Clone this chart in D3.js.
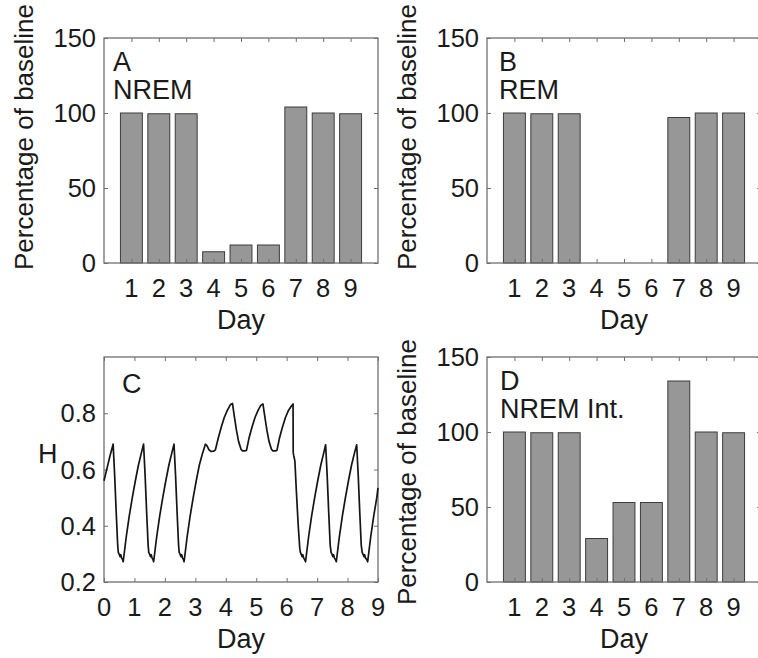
<!DOCTYPE html>
<html><head><meta charset="utf-8">
<script src="https://cdn.jsdelivr.net/npm/d3@7"></script>
<style>body{margin:0;background:#fff;overflow:hidden}svg text{font-family:"Liberation Sans",Arial,sans-serif;fill:#1a1a1a}</style>
</head><body>
<svg id="c" width="758" height="658"></svg>
<script>
// ---------- data ----------
const days = [1, 2, 3, 4, 5, 6, 7, 8, 9];
const nremValues = [100, 99.5, 99.5, 7.5, 12, 12, 104, 100, 99.5];
const remValues = [100, 99.5, 99.5, 0, 0, 0, 97, 100, 100];
const nremIntValues = [100, 99.5, 99.5, 29, 53, 53, 134, 100, 99.5];
const barTicks = [0, 50, 100, 150];
const hTicks = [0.2, 0.4, 0.6, 0.8];
const hDayTicks = [0, 1, 2, 3, 4, 5, 6, 7, 8, 9];
const hDays = [
  0, 0.1, 0.2, 0.3, 0.35, 0.40, 0.45, 0.47, 0.50, 0.53, 0.55, 0.58, 0.61, 0.63,
  0.73, 0.83, 0.93, 1.03, 1.13, 1.23, 1.30,
  1.35, 1.40, 1.45, 1.47, 1.50, 1.53, 1.55, 1.58, 1.61, 1.63,
  1.73, 1.83, 1.93, 2.03, 2.13, 2.23, 2.30,
  2.35, 2.40, 2.45, 2.47, 2.50, 2.53, 2.55, 2.58, 2.61, 2.63,
  2.73, 2.83, 2.93, 3.03, 3.13, 3.23, 3.33,
  3.38, 3.45, 3.52, 3.60, 3.66,
  3.75, 3.85, 3.95, 4.05, 4.15, 4.22,
  4.28, 4.35, 4.42, 4.50, 4.55, 4.62, 4.68,
  4.76, 4.86, 4.96, 5.06, 5.15, 5.22,
  5.28, 5.35, 5.42, 5.50, 5.55, 5.62, 5.68,
  5.76, 5.86, 5.96, 6.06, 6.15, 6.21,
  6.215, 6.23, 6.25, 6.27, 6.32, 6.38, 6.43, 6.45, 6.48, 6.51, 6.53, 6.56, 6.59, 6.62,
  6.72, 6.82, 6.92, 7.02, 7.12, 7.22, 7.28,
  7.33, 7.38, 7.43, 7.46, 7.49, 7.52, 7.54, 7.57, 7.60, 7.63,
  7.73, 7.83, 7.93, 8.03, 8.13, 8.23, 8.30,
  8.35, 8.40, 8.45, 8.48, 8.51, 8.54, 8.56, 8.59, 8.63, 8.66,
  8.76, 8.86, 8.96, 9.0
];
const hValues = [
  0.56, 0.605, 0.65, 0.69, 0.58, 0.45, 0.33, 0.305, 0.298, 0.29, 0.297, 0.285, 0.28, 0.272,
  0.36, 0.435, 0.50, 0.56, 0.615, 0.66, 0.69,
  0.58, 0.45, 0.33, 0.305, 0.298, 0.29, 0.297, 0.285, 0.28, 0.272,
  0.36, 0.435, 0.50, 0.56, 0.615, 0.66, 0.69,
  0.58, 0.45, 0.33, 0.305, 0.298, 0.29, 0.297, 0.285, 0.28, 0.272,
  0.36, 0.435, 0.50, 0.56, 0.615, 0.655, 0.69,
  0.685, 0.67, 0.664, 0.665, 0.67,
  0.71, 0.75, 0.785, 0.81, 0.83, 0.835,
  0.79, 0.74, 0.70, 0.672, 0.666, 0.666, 0.668,
  0.71, 0.75, 0.785, 0.81, 0.828, 0.833,
  0.79, 0.74, 0.70, 0.672, 0.666, 0.666, 0.668,
  0.71, 0.75, 0.785, 0.81, 0.825, 0.833,
  0.66, 0.65, 0.64, 0.63, 0.52, 0.40, 0.32, 0.305, 0.298, 0.29, 0.297, 0.285, 0.28, 0.272,
  0.36, 0.435, 0.50, 0.56, 0.615, 0.66, 0.688,
  0.58, 0.45, 0.33, 0.305, 0.298, 0.29, 0.297, 0.285, 0.28, 0.272,
  0.36, 0.435, 0.50, 0.56, 0.615, 0.66, 0.688,
  0.58, 0.45, 0.33, 0.305, 0.298, 0.29, 0.297, 0.285, 0.28, 0.272,
  0.36, 0.435, 0.50, 0.535
];

// ---------- drawing ----------
const svg = d3.select("#c");
const W = 274, H = 225;
const tickFont = 25.5, labelFont = 27, ylabFont = 26;
const boxColor = "#6f6f6f";

function frame(g, x, y, xt, yt) {
  // inward ticks on all four sides (box on)
  g.append("g").call(d3.axisBottom(x).tickValues(xt).tickSize(-4).tickFormat(""))
    .attr("transform", `translate(0,${H})`);
  g.append("g").call(d3.axisTop(x).tickValues(xt).tickSize(-4).tickFormat(""));
  g.append("g").call(d3.axisLeft(y).tickValues(yt).tickSize(-4).tickFormat(""));
  g.append("g").call(d3.axisRight(y).tickValues(yt).tickSize(-4).tickFormat(""))
    .attr("transform", `translate(${W},0)`);
  g.selectAll(".domain").remove();
  g.selectAll(".tick line").attr("stroke", boxColor).attr("stroke-width", 1);
  g.append("rect").attr("x", 0).attr("y", 0).attr("width", W).attr("height", H)
    .attr("fill", "none").attr("stroke", boxColor).attr("stroke-width", 1.3);
}

function labels(g, x, y, xt, yt, yfmt) {
  g.selectAll(".xl").data(xt).join("text").attr("class", "xl")
    .attr("x", d => x(d)).attr("y", H + 34).attr("text-anchor", "middle")
    .attr("font-size", tickFont).text(d => d);
  g.selectAll(".yl").data(yt).join("text").attr("class", "yl")
    .attr("x", -8).attr("y", d => y(d)).attr("dy", "0.36em").attr("text-anchor", "end")
    .attr("font-size", tickFont).text(yfmt);
  g.append("text").attr("x", W / 2).attr("y", H + 66).attr("text-anchor", "middle")
    .attr("font-size", labelFont).text("Day");
}

function barPanel(left, top, values, tag, name, ylabCenter, tagDx) {
  const g = svg.append("g").attr("transform", `translate(${left},${top})`);
  const x = d3.scaleLinear().domain([0, 10]).range([0, W]);
  const y = d3.scaleLinear().domain([0, 150]).range([H, 0]);
  const data = days.map((d, i) => ({ day: d, v: values[i] }));
  g.selectAll("rect.bar").data(data.filter(d => d.v > 0)).join("rect").attr("class", "bar")
    .attr("x", d => x(d.day - 0.4)).attr("width", x(0.8) - x(0))
    .attr("y", d => y(d.v)).attr("height", d => y(0) - y(d.v))
    .attr("fill", "#979797").attr("stroke", "#3c3c3c").attr("stroke-width", 1);
  frame(g, x, y, days, barTicks);
  labels(g, x, y, days, barTicks, d => d);
  g.append("text").attr("x", tagDx).attr("y", 33).attr("font-size", labelFont).text(tag);
  g.append("text").attr("x", tagDx).attr("y", 61).attr("font-size", labelFont).text(name);
  g.append("text").attr("transform", `translate(-71,${ylabCenter}) rotate(-90)`)
    .attr("text-anchor", "middle").attr("font-size", ylabFont).text("Percentage of baseline");
}

barPanel(104, 38, nremValues, "A", "NREM", 99, 9);
barPanel(487, 38, remValues, "B", "REM", 99, 12);
barPanel(487, 357, nremIntValues, "D", "NREM Int.", 115, 13);

// Panel C
(function () {
  const g = svg.append("g").attr("transform", "translate(104,357)");
  const x = d3.scaleLinear().domain([0, 9]).range([0, W]);
  const y = d3.scaleLinear().domain([0.2, 1.0]).range([H, 0]);
  frame(g, x, y, hDayTicks, hTicks);
  labels(g, x, y, hDayTicks, hTicks, d => d3.format(".1f")(d));
  const pts = hDays.map((d, i) => [d, hValues[i]]);
  g.append("path").datum(pts)
    .attr("d", d3.line().x(d => x(d[0])).y(d => y(d[1])))
    .attr("fill", "none").attr("stroke", "#151515").attr("stroke-width", 1.7)
    .attr("stroke-linejoin", "round");
  g.append("text").attr("x", 18).attr("y", 36).attr("font-size", labelFont).text("C");
  g.append("text").attr("x", -66).attr("y", 106).attr("font-size", labelFont).text("H");
})();
</script>
</body></html>
